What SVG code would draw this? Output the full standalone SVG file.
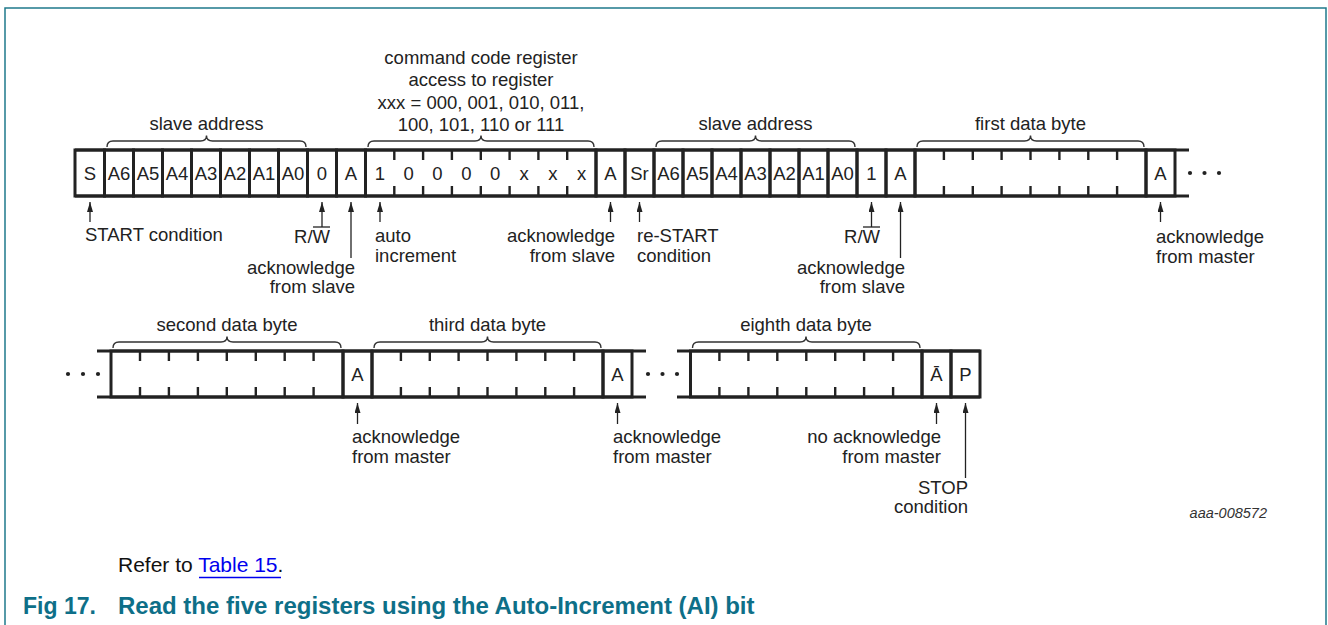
<svg xmlns="http://www.w3.org/2000/svg" width="1328" height="625" viewBox="0 0 1328 625">
<defs>
<style>
.t{font-family:"Liberation Sans",Arial,Helvetica,sans-serif;font-size:18.5px;fill:#222}
.m{text-anchor:middle}
.e{text-anchor:end}
.box{fill:none;stroke:#222;stroke-width:3}
.bus{stroke:#222;stroke-width:3;fill:none}
.tick{stroke:#222;stroke-width:2.4}
.brace{fill:none;stroke:#333;stroke-width:1.4}
.arr{stroke:#222;stroke-width:1.3;fill:none;marker-end:url(#ah)}
.ovl{stroke:#222;stroke-width:1.3}
.dot{fill:#222}
.cap{font-family:"Liberation Sans",Arial,Helvetica,sans-serif;font-size:21px;fill:#111}
.fig{font-family:"Liberation Sans",Arial,Helvetica,sans-serif;font-size:24px;font-weight:bold;fill:#0e6f88}
</style>
<marker id="ah" viewBox="0 0 10 6" refX="10" refY="3" markerWidth="10" markerHeight="6" markerUnits="userSpaceOnUse" orient="auto"><path d="M0,0 L10,3 L0,6 Z" fill="#222"/></marker>
</defs>
<rect width="1328" height="625" fill="#fff"/>
<path d="M5,625 V8 H1326 V625" fill="none" stroke="#1f7a8c" stroke-width="1.5"/>

<!-- bus lines (band edges and continuations) -->
<g id="bus">
<path class="bus" d="M75,150 H1189 M75,196 H1189"/>
<path class="bus" d="M97,351 H646 M97,397 H646 M677,351 H980 M677,397 H980"/>
<circle class="dot" cx="1190" cy="173" r="2.1"/><circle class="dot" cx="1204.5" cy="173" r="2.1"/><circle class="dot" cx="1219" cy="173" r="2.1"/>
<circle class="dot" cx="68" cy="374" r="2.1"/><circle class="dot" cx="83" cy="374" r="2.1"/><circle class="dot" cx="98" cy="374" r="2.1"/>
<circle class="dot" cx="648" cy="374" r="2.1"/><circle class="dot" cx="662.5" cy="374" r="2.1"/><circle class="dot" cx="677" cy="374" r="2.1"/>
</g>

<!-- top row -->
<g id="f-S"><rect class="box" x="75" y="150" width="29.5" height="46"/><text class="t m" x="89.8" y="180">S</text></g>
<g id="f-addr1">
<rect class="box" x="104.5" y="150" width="29" height="46"/><text class="t m" x="119" y="180">A6</text>
<rect class="box" x="133.5" y="150" width="29" height="46"/><text class="t m" x="148" y="180">A5</text>
<rect class="box" x="162.5" y="150" width="29" height="46"/><text class="t m" x="177" y="180">A4</text>
<rect class="box" x="191.5" y="150" width="29" height="46"/><text class="t m" x="206" y="180">A3</text>
<rect class="box" x="220.5" y="150" width="29" height="46"/><text class="t m" x="235" y="180">A2</text>
<rect class="box" x="249.5" y="150" width="29" height="46"/><text class="t m" x="264" y="180">A1</text>
<rect class="box" x="278.5" y="150" width="29" height="46"/><text class="t m" x="293" y="180">A0</text>
</g>
<g id="f-rw1"><rect class="box" x="307.5" y="150" width="29" height="46"/><text class="t m" x="322" y="180">0</text></g>
<g id="f-ack1"><rect class="box" x="336.5" y="150" width="29" height="46"/><text class="t m" x="351" y="180">A</text></g>
<g id="f-cmd">
<rect class="box" x="365.5" y="150" width="230.5" height="46"/>
<path class="tick" d="M394.3,151V160M394.3,186V195M423.1,151V160M423.1,186V195M451.9,151V160M451.9,186V195M480.8,151V160M480.8,186V195M509.6,151V160M509.6,186V195M538.4,151V160M538.4,186V195M567.2,151V160M567.2,186V195"/>
<text class="t m" x="380" y="180">1</text><text class="t m" x="408.7" y="180">0</text><text class="t m" x="437.5" y="180">0</text><text class="t m" x="466.4" y="180">0</text><text class="t m" x="495.2" y="180">0</text><text class="t m" x="524" y="180">x</text><text class="t m" x="552.8" y="180">x</text><text class="t m" x="581.6" y="180">x</text>
</g>
<g id="f-ack2"><rect class="box" x="596" y="150" width="29" height="46"/><text class="t m" x="610.5" y="180">A</text></g>
<g id="f-Sr"><rect class="box" x="625" y="150" width="29" height="46"/><text class="t m" x="639.5" y="180">Sr</text></g>
<g id="f-addr2">
<rect class="box" x="654" y="150" width="29" height="46"/><text class="t m" x="668.5" y="180">A6</text>
<rect class="box" x="683" y="150" width="29" height="46"/><text class="t m" x="697.5" y="180">A5</text>
<rect class="box" x="712" y="150" width="29" height="46"/><text class="t m" x="726.5" y="180">A4</text>
<rect class="box" x="741" y="150" width="29" height="46"/><text class="t m" x="755.5" y="180">A3</text>
<rect class="box" x="770" y="150" width="29" height="46"/><text class="t m" x="784.5" y="180">A2</text>
<rect class="box" x="799" y="150" width="29" height="46"/><text class="t m" x="813.5" y="180">A1</text>
<rect class="box" x="828" y="150" width="29" height="46"/><text class="t m" x="842.5" y="180">A0</text>
</g>
<g id="f-rw2"><rect class="box" x="857" y="150" width="29" height="46"/><text class="t m" x="871.5" y="180">1</text></g>
<g id="f-ack3"><rect class="box" x="886" y="150" width="29" height="46"/><text class="t m" x="900.5" y="180">A</text></g>
<g id="f-data1">
<rect class="box" x="915" y="150" width="231" height="46"/>
<path class="tick" d="M943.9,151V160M943.9,186V195M972.8,151V160M972.8,186V195M1001.6,151V160M1001.6,186V195M1030.5,151V160M1030.5,186V195M1059.4,151V160M1059.4,186V195M1088.3,151V160M1088.3,186V195M1117.1,151V160M1117.1,186V195"/>
</g>
<g id="f-ackm1"><rect class="box" x="1146" y="150" width="29" height="46"/><text class="t m" x="1160.5" y="180">A</text></g>

<!-- bottom row -->
<g id="f-data2">
<rect class="box" x="111" y="351" width="232" height="46"/>
<path class="tick" d="M140,352V361M140,387V396M168.9,352V361M168.9,387V396M197.9,352V361M197.9,387V396M226.8,352V361M226.8,387V396M255.8,352V361M255.8,387V396M284.7,352V361M284.7,387V396M313.6,352V361M313.6,387V396"/>
</g>
<g id="f-ackm2"><rect class="box" x="343" y="351" width="29" height="46"/><text class="t m" x="357.5" y="381">A</text></g>
<g id="f-data3">
<rect class="box" x="372" y="351" width="231" height="46"/>
<path class="tick" d="M400.9,352V361M400.9,387V396M429.8,352V361M429.8,387V396M458.6,352V361M458.6,387V396M487.5,352V361M487.5,387V396M516.4,352V361M516.4,387V396M545.3,352V361M545.3,387V396M574.1,352V361M574.1,387V396"/>
</g>
<g id="f-ackm3"><rect class="box" x="603" y="351" width="29" height="46"/><text class="t m" x="617.5" y="381">A</text></g>
<g id="f-data8">
<rect class="box" x="690.5" y="351" width="231.5" height="46"/>
<path class="tick" d="M719.4,352V361M719.4,387V396M748.4,352V361M748.4,387V396M777.3,352V361M777.3,387V396M806.3,352V361M806.3,387V396M835.2,352V361M835.2,387V396M864.1,352V361M864.1,387V396M893.1,352V361M893.1,387V396"/>
</g>
<g id="f-nack"><rect class="box" x="922" y="351" width="29" height="46"/><text class="t m" x="936.5" y="381">Ā</text></g>
<g id="f-P"><rect class="box" x="951" y="351" width="29" height="46"/><text class="t m" x="965.5" y="381">P</text></g>

<!-- braces and group labels -->
<g id="labels-top">
<path class="brace" d="M107,147 Q107,141 113,141 L200.5,141 Q206.5,141 206.5,135.5 Q206.5,141 212.5,141 L300,141 Q306,141 306,147"/>
<text class="t m" x="206.5" y="130">slave address</text>
<path class="brace" d="M368,147 Q368,141 374,141 L475,141 Q481,141 481,135.5 Q481,141 487,141 L588,141 Q594,141 594,147"/>
<text class="t m" x="481" y="63.5">command code register</text>
<text class="t m" x="481" y="86">access to register</text>
<text class="t m" x="481" y="108.5">xxx = 000, 001, 010, 011,</text>
<text class="t m" x="481" y="131">100, 101, 110 or 111</text>
<path class="brace" d="M656,147 Q656,141 662,141 L749.5,141 Q755.5,141 755.5,135.5 Q755.5,141 761.5,141 L849,141 Q855,141 855,147"/>
<text class="t m" x="755.5" y="130">slave address</text>
<path class="brace" d="M917,147 Q917,141 923,141 L1024.5,141 Q1030.5,141 1030.5,135.5 Q1030.5,141 1036.5,141 L1138,141 Q1144,141 1144,147"/>
<text class="t m" x="1030.5" y="130">first data byte</text>
</g>
<g id="labels-bottom">
<path class="brace" d="M113,348 Q113,342 119,342 L221,342 Q227,342 227,336.5 Q227,342 233,342 L335,342 Q341,342 341,348"/>
<text class="t m" x="227" y="331">second data byte</text>
<path class="brace" d="M374,348 Q374,342 380,342 L481.5,342 Q487.5,342 487.5,336.5 Q487.5,342 493.5,342 L595,342 Q601,342 601,348"/>
<text class="t m" x="487.5" y="331">third data byte</text>
<path class="brace" d="M692.5,348 Q692.5,342 698.5,342 L800,342 Q806,342 806,336.5 Q806,342 812,342 L914,342 Q920,342 920,348"/>
<text class="t m" x="806" y="331">eighth data byte</text>
</g>

<!-- connectors (pointer arrows) -->
<g id="connectors">
<line class="arr" x1="90" y1="222" x2="90" y2="202"/>
<line class="arr" x1="322" y1="227" x2="322" y2="202"/>
<line class="arr" x1="351" y1="258" x2="351" y2="202"/>
<line class="arr" x1="380" y1="222" x2="380" y2="202"/>
<line class="arr" x1="610.5" y1="222" x2="610.5" y2="202"/>
<line class="arr" x1="639.5" y1="222" x2="639.5" y2="202"/>
<line class="arr" x1="871.5" y1="227" x2="871.5" y2="202"/>
<line class="arr" x1="900.5" y1="258" x2="900.5" y2="202"/>
<line class="arr" x1="1160.5" y1="222" x2="1160.5" y2="202"/>
<line class="arr" x1="357.5" y1="424" x2="357.5" y2="403"/>
<line class="arr" x1="617.5" y1="424" x2="617.5" y2="403"/>
<line class="arr" x1="936.5" y1="424" x2="936.5" y2="403"/>
<line class="arr" x1="965.5" y1="478" x2="965.5" y2="403"/>
</g>

<!-- pointer labels -->
<g id="notes">
<text class="t" x="85" y="241">START condition</text>
<text class="t e" x="330" y="243">R/W</text><line class="ovl" x1="313" y1="227" x2="330" y2="227"/>
<text class="t e" x="355" y="274">acknowledge</text><text class="t e" x="355" y="293">from slave</text>
<text class="t" x="375" y="242">auto</text><text class="t" x="375" y="262">increment</text>
<text class="t e" x="615" y="242">acknowledge</text><text class="t e" x="615" y="262">from slave</text>
<text class="t" x="637" y="242">re-START</text><text class="t" x="637" y="262">condition</text>
<text class="t e" x="880" y="243">R/W</text><line class="ovl" x1="863" y1="227" x2="880" y2="227"/>
<text class="t e" x="905" y="274">acknowledge</text><text class="t e" x="905" y="293">from slave</text>
<text class="t" x="1156" y="243">acknowledge</text><text class="t" x="1156" y="263">from master</text>
<text class="t" x="352" y="443">acknowledge</text><text class="t" x="352" y="463">from master</text>
<text class="t" x="613" y="443">acknowledge</text><text class="t" x="613" y="463">from master</text>
<text class="t e" x="941" y="443">no acknowledge</text><text class="t e" x="941" y="463">from master</text>
<text class="t e" x="968" y="494">STOP</text><text class="t e" x="968" y="513">condition</text>
</g>

<text x="1267" y="518" text-anchor="end" font-family="Liberation Sans, Arial, sans-serif" font-size="14.5" font-style="italic" fill="#333">aaa-008572</text>
<text class="cap" x="118" y="572">Refer to <tspan fill="#0000ee">Table 15</tspan>.</text>
<line x1="199" y1="577.5" x2="281" y2="577.5" stroke="#0000ee" stroke-width="1.5"/>
<text class="fig" x="23" y="614" style="font-size:23px">Fig 17.</text>
<text class="fig" x="118" y="614">Read the five registers using the Auto-Increment (AI) bit</text>
</svg>
